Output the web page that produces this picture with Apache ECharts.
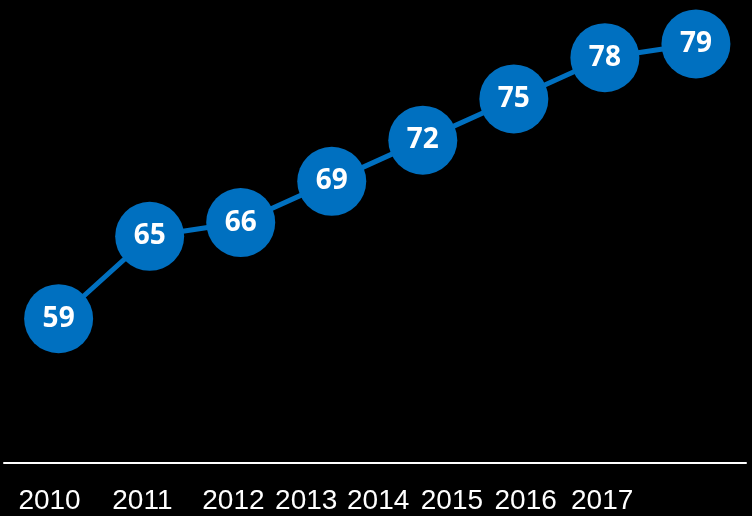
<!DOCTYPE html>
<html>
<head>
<meta charset="utf-8">
<script src="https://cdn.jsdelivr.net/npm/echarts@6/dist/echarts.min.js"></script>
<style>
  html, body { margin: 0; padding: 0; background: #000; }
  #chart { width: 752px; height: 516px; }
</style>
</head>
<body>
<div id="chart"></div>
<script>
// 年份与数值
const years = ['2010', '2011', '2012', '2013', '2014', '2015', '2016', '2017'];
const values = [59, 65, 66, 69, 72, 75, 78, 79];
// 年份标签在图上的刻度位置（以点序号计）
const labelTicks = [-0.1, 0.92, 1.92, 2.72, 3.51, 4.32, 5.13, 5.97];

const chart = echarts.init(document.getElementById('chart'));

const option = {
  backgroundColor: '#000000',
  animation: false,
  grid: { left: 4, right: 6, top: 0, bottom: 53 },
  xAxis: {
    type: 'value',
    min: -0.6,
    max: 7.55,
    axisLine: { show: true, onZero: false, lineStyle: { color: '#ffffff', width: 2 } },
    axisTick: { show: false },
    splitLine: { show: false },
    axisLabel: {
      customValues: labelTicks,
      formatter: function (v) {
        const i = labelTicks.indexOf(v);
        return i >= 0 ? years[i] : '';
      },
      color: '#ffffff',
      fontFamily: 'Liberation Sans',
      fontSize: 28,
      lineHeight: 28,
      margin: 24,
      showMinLabel: true,
      showMaxLabel: true
    }
  },
  yAxis: {
    type: 'value',
    min: 48.5,
    max: 82.2,
    show: false,
    splitLine: { show: false }
  },
  series: [
    {
      type: 'line',
      data: values.map((v, i) => [i, v]),
      symbol: 'circle',
      symbolSize: 69,
      lineStyle: { color: '#0070C0', width: 5 },
      itemStyle: { color: '#0070C0' },
      label: {
        show: true,
        position: 'inside',
        color: '#ffffff',
        fontFamily: 'Noto Sans',
        fontWeight: 'bold',
        fontSize: 28
      }
    }
  ]
};

chart.setOption(option);
</script>
</body>
</html>
